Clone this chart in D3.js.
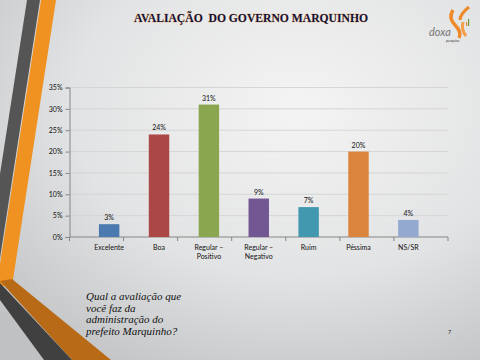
<!DOCTYPE html>
<html><head><meta charset="utf-8">
<script src="https://cdn.jsdelivr.net/npm/d3@7"></script>
<style>html,body{margin:0;padding:0;overflow:hidden;}svg{display:block;}</style>
</head><body>
<script>
const categories = [["Excelente"],["Boa"],["Regular –","Positivo"],["Regular –","Negativo"],["Ruim"],["Péssima"],["NS/SR"]];
const values = [3, 24, 31, 9, 7, 20, 4];
const barColors = ["#4a7ab0","#ab4744","#8aa64f","#735793","#4198af","#db843d","#93a9d0"];
const yTicks = [0, 5, 10, 15, 20, 25, 30, 35];
const titleText = "AVALIAÇÃO  DO GOVERNO MARQUINHO";
const questionLines = ["Qual a avaliação que","você faz da","administração do","prefeito Marquinho?"];

(function(){
const W = 480, H = 360;
const svg = d3.select("body").append("svg").attr("width", W).attr("height", H);
const defs = svg.append("defs");
const bg = defs.append("radialGradient").attr("id","bg").attr("cx","0.62").attr("cy","0.3").attr("r","0.85");
bg.append("stop").attr("offset","0").attr("stop-color","#f4f4f4");
bg.append("stop").attr("offset","0.55").attr("stop-color","#e2e3e4");
bg.append("stop").attr("offset","1").attr("stop-color","#bfc1c2");
svg.append("rect").attr("width",W).attr("height",H).attr("fill","url(#bg)");

// decorations
const deco = svg.append("g");
deco.append("polygon").attr("points","27,0 40,0 0,258 0,174").attr("fill","#555555");
deco.append("polygon").attr("points","41,0 56,0 12,286 0,286 0,264").attr("fill","#ef9222");
deco.append("polygon").attr("points","0,281 12,279 111,360 72,360").attr("fill","#b86a16");
deco.append("polygon").attr("points","0,283 72,360 44,360 0,300").attr("fill","#404040");

// logo
const logo = svg.append("g");
logo.append("path").attr("d","M 453 10 Q 448 18 455 25 Q 462 32 459 38").attr("fill","none").attr("stroke","#ef8a2a").attr("stroke-width",3.5);
logo.append("path").attr("d","M 469 7 Q 460 14 460 20").attr("fill","none").attr("stroke","#ef8a2a").attr("stroke-width",3);
logo.append("path").attr("d","M 463 22 Q 461 30 466 36").attr("fill","none").attr("stroke","#f4a04a").attr("stroke-width",3);
logo.append("rect").attr("x",466).attr("y",22).attr("width",1.2).attr("height",4).attr("fill","#ef8a2a");
logo.append("rect").attr("x",468).attr("y",19).attr("width",1.2).attr("height",7).attr("fill","#6a9a3a");
logo.append("text").attr("x",429).attr("y",36).attr("font-family","Lato, sans-serif").attr("font-style","italic").attr("font-size",11).attr("fill","#777").text("doxa");
logo.append("text").attr("x",446).attr("y",42).attr("font-family","Lato, sans-serif").attr("font-size",3.5).attr("fill","#444").text("pesquisa");

// title
svg.append("text").attr("x",134).attr("y",22)
  .attr("font-family","'Liberation Serif', serif").attr("font-weight","bold").attr("font-size",12.5)
  .attr("textLength",234).attr("lengthAdjust","spacingAndGlyphs")
  .attr("fill","#12123a").attr("stroke","#f0a040").attr("stroke-width",0.4).attr("paint-order","stroke")
  .style("white-space","pre").text(titleText);

// chart
const pLeft = 69.5, pRight = 448, pTop = 87.5, pBottom = 237;
const x = d3.scaleBand().domain(d3.range(categories.length)).range([pLeft, pRight]).padding(0.59);
const y = d3.scaleLinear().domain([0, 35]).range([pBottom, pTop]);

const grid = svg.append("g");
grid.selectAll("line").data(yTicks.filter(t => t > 0)).join("line")
  .attr("x1", pLeft).attr("x2", pRight).attr("y1", d => y(d)).attr("y2", d => y(d))
  .attr("stroke","#d2d3d4").attr("stroke-width",0.9);

const yAxis = svg.append("g").attr("transform",`translate(${pLeft},0)`)
  .call(d3.axisLeft(y).tickValues(yTicks).tickFormat(d => d + "%").tickSize(4).tickPadding(3));
yAxis.select(".domain").attr("stroke","#868686");
yAxis.selectAll(".tick line").attr("stroke","#868686");
yAxis.selectAll("text").attr("font-family","Lato, sans-serif").attr("font-size",7).attr("fill","#111");

const bw = (pRight - pLeft) / categories.length;
const xAxis = svg.append("g");
xAxis.append("line").attr("x1",pLeft).attr("x2",pRight).attr("y1",pBottom).attr("y2",pBottom).attr("stroke","#868686");
xAxis.selectAll("line.t").data(d3.range(categories.length + 1)).join("line").attr("class","t")
  .attr("x1", i => pLeft + i*bw).attr("x2", i => pLeft + i*bw).attr("y1", pBottom).attr("y2", pBottom + 4)
  .attr("stroke","#868686");

svg.append("g").selectAll("rect").data(values).join("rect")
  .attr("x",(d,i) => x(i)).attr("width", x.bandwidth())
  .attr("y", d => y(d)).attr("height", d => pBottom - y(d))
  .attr("fill",(d,i) => barColors[i]);

svg.append("g").selectAll("text").data(values).join("text")
  .attr("x",(d,i) => x(i) + x.bandwidth()/2).attr("y", d => y(d) - 4)
  .attr("text-anchor","middle").attr("font-family","Lato, sans-serif").attr("font-size",7).attr("fill","#111")
  .text(d => d + "%");

const cl = svg.append("g").selectAll("text").data(categories).join("text")
  .attr("text-anchor","middle").attr("font-family","Lato, sans-serif").attr("font-size",7).attr("fill","#111");
cl.each(function(lines, i) {
  d3.select(this).selectAll("tspan").data(lines).join("tspan")
    .attr("x", x(i) + x.bandwidth()/2).attr("y",(l, j) => 250 + j*9).text(l => l);
});

// question
svg.append("g").selectAll("text").data(questionLines).join("text")
  .attr("x",86).attr("y",(d,i) => 300 + i*11.7)
  .attr("font-family","'Liberation Serif', serif").attr("font-style","italic").attr("font-size",11).attr("fill","#111")
  .text(d => d);

svg.append("text").attr("x",448).attr("y",334).attr("font-family","Lato, sans-serif").attr("font-size",5.5).attr("fill","#222").text("7");
})();
</script>
</body></html>
